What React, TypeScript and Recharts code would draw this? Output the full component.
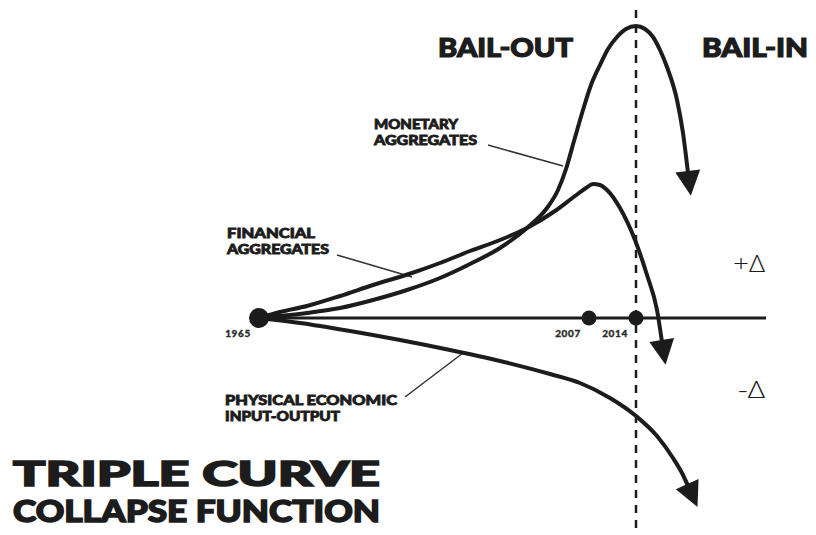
import React from "react";
import { ComposedChart, Line, Scatter, XAxis, YAxis, ReferenceLine } from "recharts";

// x: position along the time axis (1965 = 0), y: delta above / below the zero line
const monetaryT = [0, 31, 48, 81, 114, 148, 181, 211, 241, 268, 288, 299, 307, 315, 324, 332, 341, 349, 358, 367, 377, 386, 394, 401, 408, 418, 424, 429];
const monetaryD = [0, 3, 5, 10, 18, 28, 40, 54, 70, 90, 110, 128, 149, 177, 208, 233, 253, 269, 281, 289, 292, 289, 281, 268, 251, 218, 185, 145];

const financialT = [0, 21, 48, 81, 114, 153, 181, 211, 241, 268, 296, 316, 327, 334, 341, 348, 361, 376, 388, 398, 403];
const financialD = [0, 6, 12, 22, 33, 45, 55, 67, 78, 90, 107, 122, 130, 134, 133, 128, 110, 78, 43, 8, -24];

const physicalT = [0, 41, 91, 141, 191, 241, 291, 321, 351, 377, 398, 414, 424, 429];
const physicalD = [0, -5, -13, -22, -32, -43, -56, -65, -80, -98, -118, -140, -157, -168];

const yearLabels = ["1965", "2007", "2014"];
const yearT = [0, 330, 377];

const cutoffT = 377;
const axisEndT = 507;

// leader lines from labels to curves: [t1, d1, t2, d2]
const leaderMonetary = [229, 173, 304, 152];
const leaderFinancial = [78, 63, 153, 41];
const leaderPhysical = [204, -35, 146, -79];

const INK = "#1c1c1c";
const FONT = "Lato, 'DejaVu Sans', sans-serif";
const THIN = "'Open Sans', 'DejaVu Sans', sans-serif";

const toRows = (t: number[], d: number[]) => t.map((v, i) => ({ t: v, d: d[i] }));
const monetary = toRows(monetaryT, monetaryD);
const financial = toRows(financialT, financialD);
const physical = toRows(physicalT, physicalD);
const years = yearT.map((t, i) => ({ t, d: 0, label: yearLabels[i] }));

function arrowDot(rows: { t: number; d: number }[]) {
  const last = rows.length - 1;
  return (props: any) => {
    const { cx, cy, index } = props;
    if (index !== last || cx == null) return <g key={`e-${index}`} />;
    const dx = rows[last].t - rows[last - 1].t;
    const dy = -(rows[last].d - rows[last - 1].d);
    const len = Math.hypot(dx, dy);
    const ux = dx / len;
    const uy = dy / len;
    const nx = -uy;
    const ny = ux;
    const L = 23;
    const W = 12.5;
    const pts = [
      [cx + ux * L, cy + uy * L],
      [cx + nx * W - ux * 2, cy + ny * W - uy * 2],
      [cx - nx * W - ux * 2, cy - ny * W - uy * 2],
    ]
      .map((p) => p.join(","))
      .join(" ");
    return <polygon key={`a-${index}`} points={pts} fill={INK} />;
  };
}

function YearDot(props: any) {
  const { cx, cy, payload, index } = props;
  const r = index === 0 ? 10 : 7.5;
  return (
    <g>
      <circle cx={cx} cy={cy} r={r} fill={INK} />
      <text
        x={cx - 21}
        y={cy + 19}
        textAnchor="middle"
        fontFamily={FONT}
        fontWeight={900}
        fontSize={10}
        letterSpacing={0.6}
        stroke="#2a2a2a"
        strokeWidth={0.3}
        fill="#2a2a2a"
      >
        {payload.label}
      </text>
    </g>
  );
}

// single-line heavy text stretched to the measured width
const T = ({ x, y, size, len, children, weight = 900, family = FONT, sw = 0 }: any) => (
  <text
    x={x}
    y={y}
    fontFamily={family}
    fontWeight={weight}
    fontSize={size}
    textLength={len}
    lengthAdjust="spacingAndGlyphs"
    fill={INK}
    stroke={sw ? INK : "none"}
    strokeWidth={sw}
  >
    {children}
  </text>
);

// two-line label as one text element
const T2 = ({ x, y, gap, size, lines, lens }: any) => (
  <text x={x} y={y} fontFamily={FONT} fontWeight={900} fontSize={size} fill={INK} stroke={INK} strokeWidth={0.8}>
    {lines.map((l: string, i: number) => (
      <tspan key={l + i} x={x} y={y + i * gap} textLength={lens[i]} lengthAdjust="spacingAndGlyphs">
        {l}
      </tspan>
    ))}
  </text>
);

export default function App() {
  const seg = (s: number[]) => [
    { x: s[0], y: s[1] },
    { x: s[2], y: s[3] },
  ];
  return (
    <div style={{ position: "absolute", left: 0, top: 0, width: 816, height: 535, background: "#fff" }}>
      <ComposedChart width={816} height={535} margin={{ top: 0, right: 0, bottom: 0, left: 0 }}>
        <XAxis type="number" dataKey="t" domain={[-259, 557]} hide allowDataOverflow />
        <YAxis type="number" dataKey="d" domain={[-217, 318]} hide allowDataOverflow />
        <ReferenceLine
          segment={[
            { x: cutoffT, y: 308 },
            { x: cutoffT, y: -217 },
          ]}
          stroke={INK}
          strokeWidth={2.5}
          strokeDasharray="8 7"
        />
        <ReferenceLine
          segment={[
            { x: 0, y: 0 },
            { x: axisEndT, y: 0 },
          ]}
          stroke={INK}
          strokeWidth={3}
        />
        <ReferenceLine segment={seg(leaderMonetary)} stroke="#333" strokeWidth={1.5} />
        <ReferenceLine segment={seg(leaderFinancial)} stroke="#333" strokeWidth={1.5} />
        <ReferenceLine segment={seg(leaderPhysical)} stroke="#333" strokeWidth={1.5} />
        <Line
          data={physical}
          dataKey="d"
          type="monotone"
          stroke={INK}
          strokeWidth={4}
          dot={arrowDot(physical)}
          activeDot={false}
          isAnimationActive={false}
        />
        <Line
          data={financial}
          dataKey="d"
          type="monotone"
          stroke={INK}
          strokeWidth={4}
          dot={arrowDot(financial)}
          activeDot={false}
          isAnimationActive={false}
        />
        <Line
          data={monetary}
          dataKey="d"
          type="monotone"
          stroke={INK}
          strokeWidth={4}
          dot={arrowDot(monetary)}
          activeDot={false}
          isAnimationActive={false}
        />
        <Scatter data={years} dataKey="d" shape={<YearDot />} isAnimationActive={false} />
      </ComposedChart>
      <svg width={816} height={535} style={{ position: "absolute", left: 0, top: 0, pointerEvents: "none" }}>
        <T x={438} y={57} size={26} len={135} sw={1.2}>BAIL-OUT</T>
        <T x={702} y={57} size={26} len={106} sw={1.2}>BAIL-IN</T>
        <T2 x={374} y={129} gap={16} size={13} lines={["MONETARY", "AGGREGATES"]} lens={[84, 103]} />
        <T2 x={227} y={238} gap={16} size={13} lines={["FINANCIAL", "AGGREGATES"]} lens={[88, 102]} />
        <T2 x={225} y={405} gap={16} size={13} lines={["PHYSICAL ECONOMIC", "INPUT-OUTPUT"]} lens={[172, 115]} />
        <T x={733} y={272} size={23} len={32} weight={300} family={THIN}>+Δ</T>
        <T x={738} y={398} size={23} len={27} weight={300} family={THIN}>-Δ</T>
        <T x={13} y={486} size={34} len={367} sw={1.6}>TRIPLE CURVE</T>
        <T x={13} y={522} size={30} len={367} sw={1.5}>COLLAPSE FUNCTION</T>
      </svg>
    </div>
  );
}
